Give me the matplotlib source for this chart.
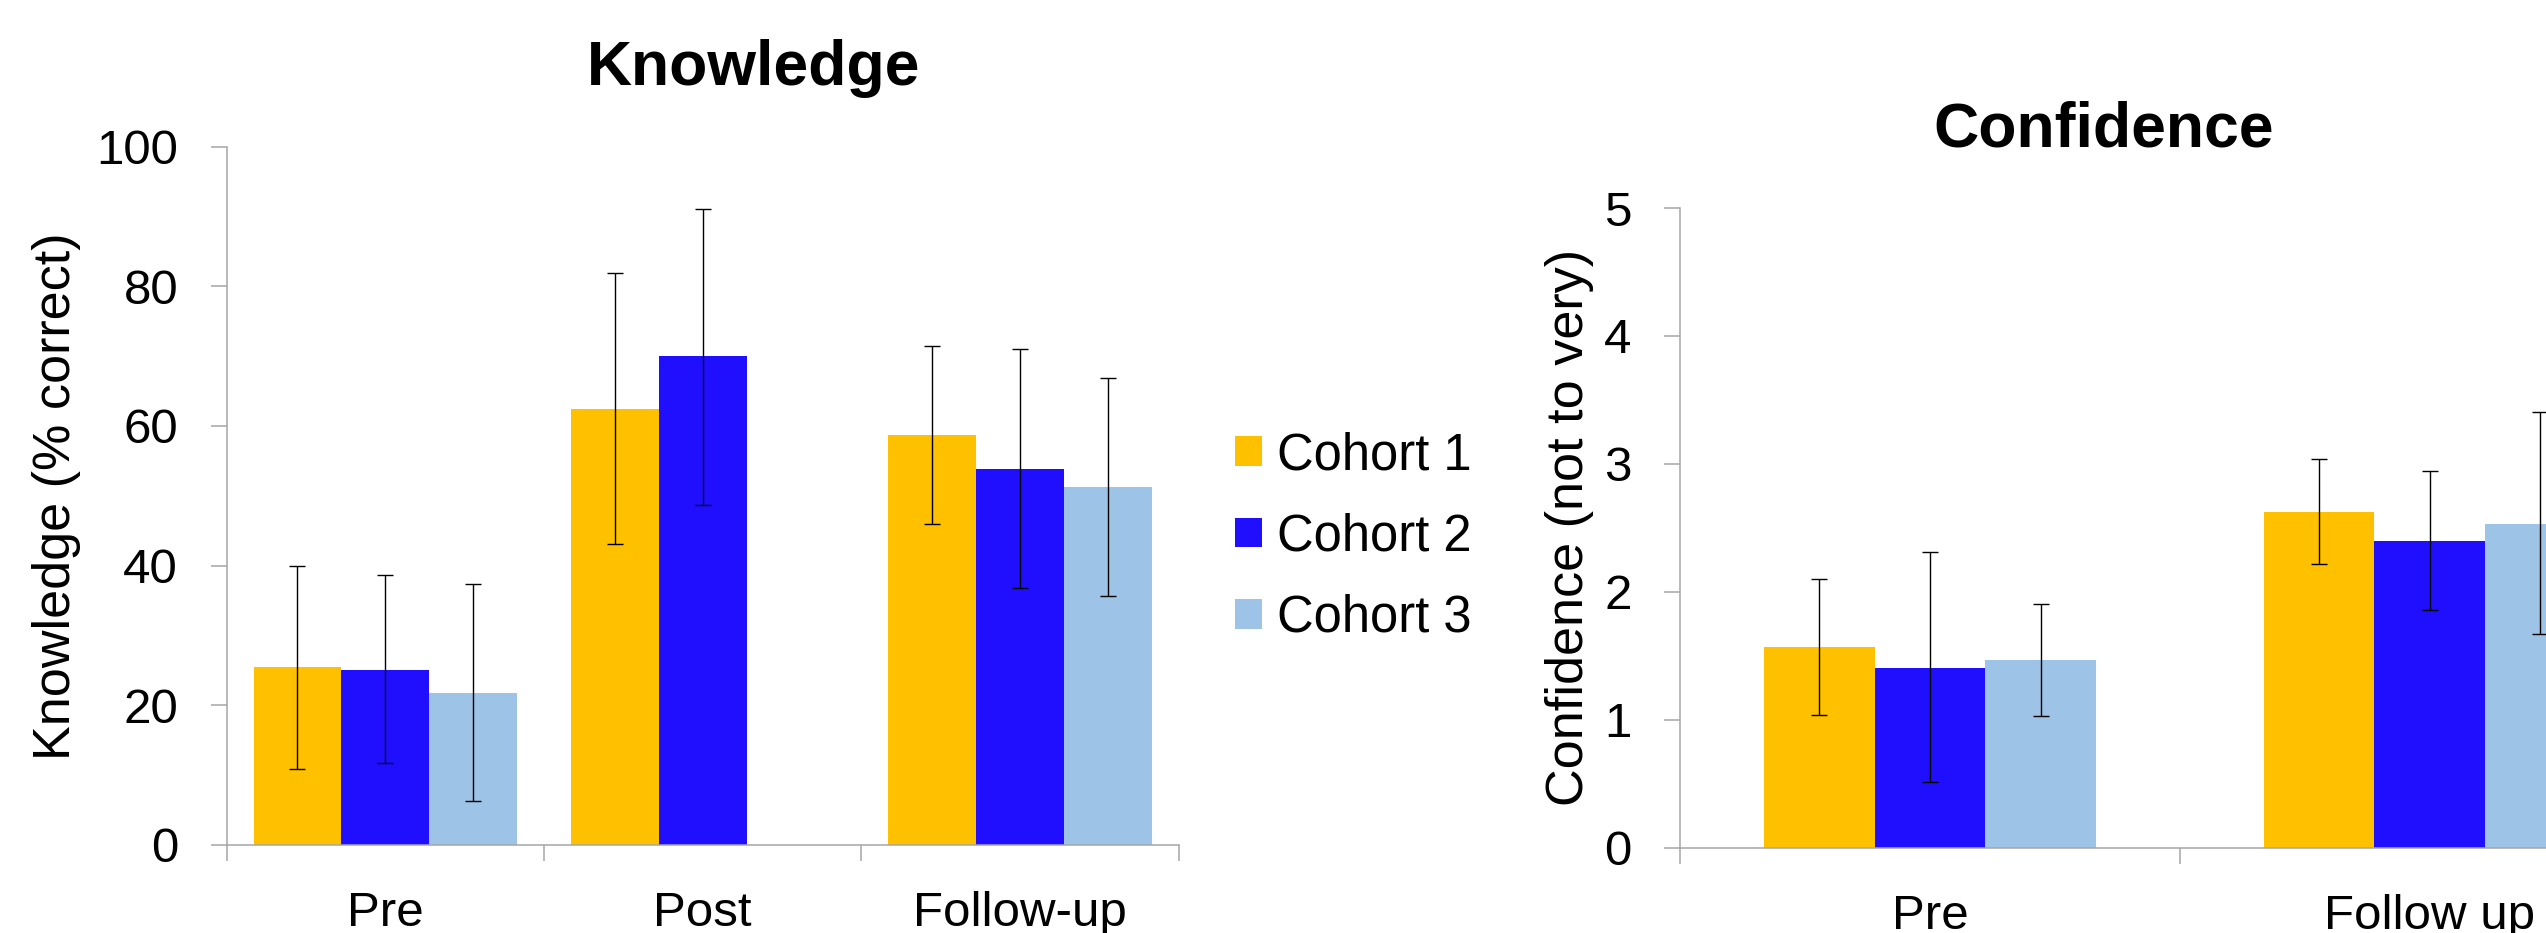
import numpy as np
import matplotlib
matplotlib.use("Agg")
import matplotlib.pyplot as plt
from matplotlib.ticker import FixedLocator, NullFormatter, FixedFormatter

plt.rcParams['font.family'] = ['Liberation Sans', 'DejaVu Sans']

# ---------------- data ----------------
cohorts = ["Cohort 1", "Cohort 2", "Cohort 3"]
colors = ["#FFC000", "#200FFF", "#9DC3E6"]

know_categories = ["Pre", "Post", "Follow-up"]
know_c1 = [25.4, 62.4, 58.7]
know_c2 = [25.1, 70.0, 53.8]
know_c3 = [21.7, np.nan, 51.2]
know_c1_low = [10.8, 43.1, 46.0]
know_c2_low = [11.7, 48.7, 36.8]
know_c3_low = [6.2, np.nan, 35.7]
know_c1_high = [39.9, 81.9, 71.5]
know_c2_high = [38.6, 91.1, 71.0]
know_c3_high = [37.4, np.nan, 66.8]
know_yticks = [0, 20, 40, 60, 80, 100]

conf_categories = ["Pre", "Follow up"]
conf_c1 = [1.566, 2.626]
conf_c2 = [1.408, 2.398]
conf_c3 = [1.468, 2.533]
conf_c1_low = [1.036, 2.221]
conf_c2_low = [0.514, 1.854]
conf_c3_low = [1.026, 1.668]
conf_c1_high = [2.10, 3.035]
conf_c2_high = [2.31, 2.947]
conf_c3_high = [1.905, 3.407]
conf_yticks = [0, 1, 2, 3, 4, 5]

W, H = 2546, 933
fig = plt.figure(figsize=(W / 100, H / 100), dpi=100)

SPINE = "#A6A6A6"
TICK_FS = 35.5
XLAB_FS = 35.5
YLAB_FS = 37.5
TITLE_FS = 45


def draw_panel(ax, categories, means, lows, highs, bar_w, yticks, ylabel):
    n = len(categories)
    x = np.arange(n) + 0.5
    containers = []
    for j, (m, lo, hi) in enumerate(zip(means, lows, highs)):
        m = np.asarray(m, float)
        lo = np.asarray(lo, float)
        hi = np.asarray(hi, float)
        xs = x + (j - 1) * bar_w
        c = ax.bar(xs, np.nan_to_num(m), width=bar_w, color=colors[j],
                   edgecolor="none", label=cohorts[j], zorder=2)
        containers.append(c)
        ok = ~np.isnan(m)
        ax.errorbar(xs[ok], m[ok], yerr=[m[ok] - lo[ok], hi[ok] - m[ok]],
                    fmt="none", ecolor="black", elinewidth=1.0,
                    capsize=5.5, capthick=1.0, zorder=3)
    ax.set_xlim(0, n)
    ax.set_ylim(yticks[0], yticks[-1])
    ax.set_yticks(yticks)
    ax.xaxis.set_major_locator(FixedLocator(np.arange(n + 1)))
    ax.xaxis.set_major_formatter(NullFormatter())
    ax.xaxis.set_minor_locator(FixedLocator(x))
    ax.xaxis.set_minor_formatter(FixedFormatter(categories))
    ax.tick_params(axis="x", which="major", direction="out", length=11.5,
                   width=1.1, color=SPINE)
    ax.tick_params(axis="x", which="minor", length=0, pad=33,
                   labelsize=XLAB_FS)
    ax.tick_params(axis="y", direction="out", length=11.5, width=1.1,
                   color=SPINE, pad=23.5, labelsize=TICK_FS)
    for s in ("top", "right"):
        ax.spines[s].set_visible(False)
    for s in ("left", "bottom"):
        ax.spines[s].set_color(SPINE)
        ax.spines[s].set_linewidth(1.1)
    ax.set_ylabel(ylabel, fontsize=YLAB_FS, va="center")
    return containers


# Knowledge panel
ax1 = fig.add_axes([226.7 / W, 1 - 844.7 / H, (1178.6 - 226.7) / W,
                    (844.7 - 146.7) / H])
cont = draw_panel(ax1, know_categories,
                  [know_c1, know_c2, know_c3],
                  [know_c1_low, know_c2_low, know_c3_low],
                  [know_c1_high, know_c2_high, know_c3_high],
                  0.277, know_yticks, "Knowledge (% correct)")
ax1.yaxis.set_label_coords((57 - 226.7) / (1178.6 - 226.7), 0.5)

# Confidence panel (extends past the right edge of the figure)
ax2 = fig.add_axes([1680.3 / W, 1 - 847.7 / H, 999.2 / W,
                    (847.7 - 208.0) / H])
draw_panel(ax2, conf_categories,
           [conf_c1, conf_c2, conf_c3],
           [conf_c1_low, conf_c2_low, conf_c3_low],
           [conf_c1_high, conf_c2_high, conf_c3_high],
           0.2214, conf_yticks, "Confidence (not to very)")
ax2.yaxis.set_label_coords((1569 - 1680.3) / 999.2, 0.5)

# Titles
fig.text(753.3 / W, 1 - 85 / H, "Knowledge", ha="center", va="baseline",
         fontsize=TITLE_FS, fontweight="bold")
fig.text(2103.3 / W, 1 - 146.7 / H, "Confidence", ha="center",
         va="baseline", fontsize=TITLE_FS, fontweight="bold")

# Legend
LEG_FS = 36.5
sq = 19.2 / LEG_FS
fig.legend(handles=cont, labels=cohorts, loc="center left",
           bbox_to_anchor=(1235 / W, 1 - 537 / H), frameon=False,
           fontsize=LEG_FS, handlelength=sq, handleheight=sq,
           handletextpad=10.8 / LEG_FS, labelspacing=0.64,
           borderpad=0, borderaxespad=0)

fig.savefig("out.png", dpi=100)
